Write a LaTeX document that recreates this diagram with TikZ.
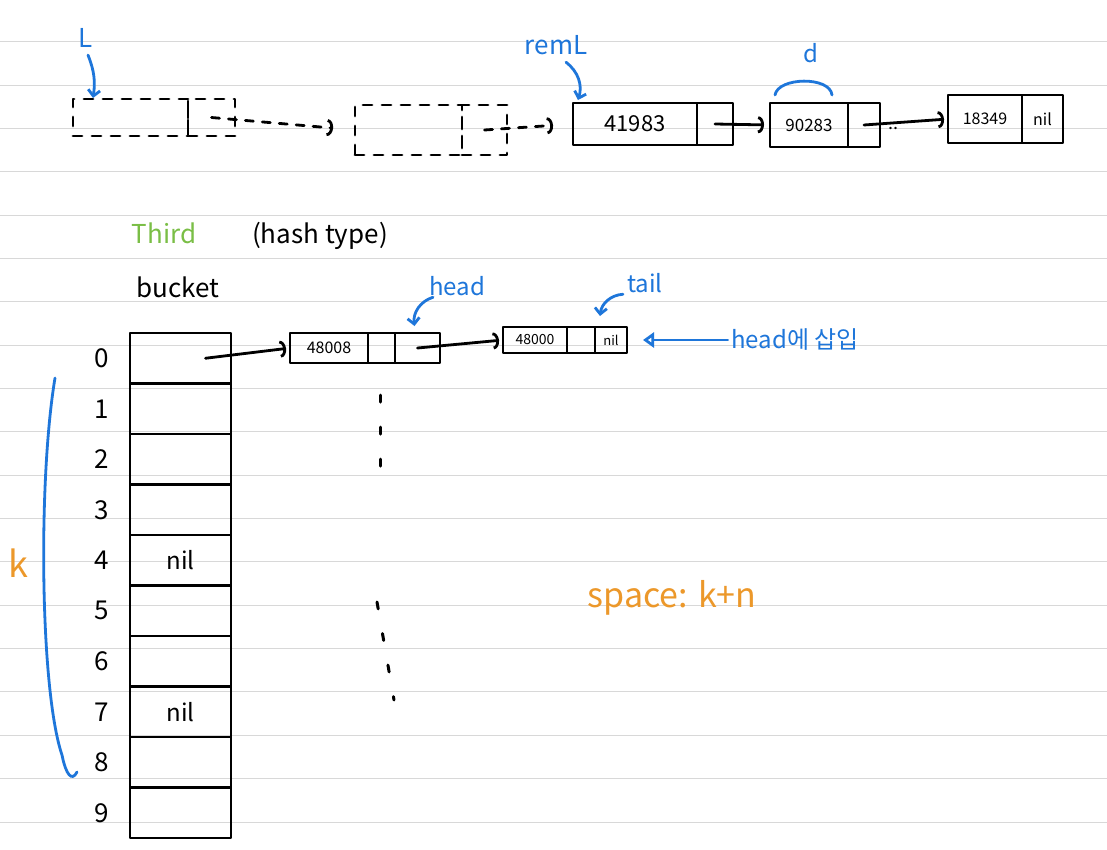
\documentclass[tikz,border=0pt]{standalone}
\usepackage{fontspec}
\setmainfont{Noto Sans CJK KR}
\usepackage{tikz}
\usetikzlibrary{arrows.meta}
\usetikzlibrary{positioning}
\definecolor{penblue}{RGB}{30,118,218}
\definecolor{pengreen}{RGB}{122,190,70}
\definecolor{penorange}{RGB}{236,152,42}
\definecolor{ruling}{RGB}{216,216,216}
\newcommand{\hand}[1]{\fontsize{#1}{#1}\selectfont}

\begin{document}
\begin{tikzpicture}[x=1pt, y=-1pt, line cap=round, line join=round]
    \tikzstyle{field} = [draw, line width=2.8pt, rectangle, inner sep=0pt, outer sep=0pt, text centered];
    \tikzstyle{ghost} = [field, dash pattern=on 9pt off 10pt];
    \tikzstyle{cell} = [field, minimum width=101pt, minimum height=50.5pt, font=\hand{24}];
    \tikzstyle{line} = [draw, line width=2.8pt, -{Arc Barb[length=6pt, width=17pt]}];
    \tikzstyle{pointer} = [draw=penblue, line width=2.8pt, -{Straight Barb[length=6pt, width=12pt]}];
    \tikzstyle{pen} = [text=penblue, font=\hand{24}];
    \tikzstyle{rule} = [draw=ruling, line width=1pt];
    \useasboundingbox (0,0) rectangle (1107,849);
    \fill[white] (0,0) rectangle (1107,849);
    \foreach \k in {0,...,18}
        \path[rule] (0,{41.7+43.35*\k}) -- (1107,{41.7+43.35*\k});

    \node[ghost, minimum width=115pt, minimum height=37pt] (g1key) at (130.5,117.5) {};
    \node[ghost, minimum width=47pt, minimum height=37pt, right=0pt of g1key] (g1ptr) {};
    \node[ghost, minimum width=107pt, minimum height=50pt] (g2key) at (408.5,130) {};
    \node[ghost, minimum width=45pt, minimum height=50pt, right=0pt of g2key] (g2ptr) {};
    \node[field, minimum width=124pt, minimum height=42pt, font=\hand{22}] (n1key) at (635,124) {41983};
    \node[field, minimum width=36pt, minimum height=42pt, right=0pt of n1key] (n1ptr) {};
    \node[field, minimum width=78pt, minimum height=44pt, font=\hand{17}] (n2key) at (809,125) {90283};
    \node[field, minimum width=32pt, minimum height=44pt, right=0pt of n2key] (n2ptr) {};
    \node[field, minimum width=74pt, minimum height=48pt, font=\hand{16}] (n3key) at (985,119) {18349};
    \node[field, minimum width=41pt, minimum height=48pt, font=\hand{16}, right=0pt of n3key] (n3ptr) {nil};

    \path[line, dash pattern=on 8pt off 9pt, shorten >=22pt] (g1ptr.center) -- (g2key.west);
    \path[line, dash pattern=on 8pt off 9pt, shorten >=20pt] (g2ptr.center) -- (n1key.west);
    \path[line, shorten >=6pt] (n1ptr.center) -- (n2key.west);
    \path[line, shorten >=4pt] (n2ptr.center) -- node[below, pos=0.35, font=\hand{18}] {..} (n3key.west);

    \node[pen, font=\hand{26}] (lbl) at (86,38) {L};
    \path[pointer] ([xshift=2pt, yshift=-4pt]lbl.south) to[bend left=15] ([xshift=20pt, yshift=1pt]g1key.north west);
    \node[pen, font=\hand{26}] (remlbl) at (556,45) {remL};
    \path[pointer] ([xshift=10pt, yshift=-4pt]remlbl.south) to[bend left=35] ([xshift=5pt, yshift=3pt]n1key.north west);
    \node[pen] (dlbl) at (811,53) {d};
    \draw[penblue, line width=2.8pt] ([xshift=5pt, yshift=8pt]n2key.north west) .. controls ([xshift=8pt, yshift=26pt]n2key.north west) and ([xshift=-18pt, yshift=27pt]n2key.north east) .. ([xshift=-16pt, yshift=8pt]n2key.north east);

    \node[text=pengreen, font=\hand{26}] (third) at (164,233) {Third};
    \node[font=\hand{26}] (hashtype) at (320,236) {(hash type)};
    \node[font=\hand{26}] (bucketlbl) at (178,287) {bucket};

    \foreach \i/\txt in {0/,1/,2/,3/,4/nil,5/,6/,7/nil,8/,9/}
        \node[cell] (b\i) at (180.5,{358.25+50.5*\i}) {\txt};
    \foreach \i in {0,...,9}
        \node[font=\hand{26}, left=18pt of b\i] (idx\i) {\i};

    \draw[penblue, line width=2.8pt] (55,378) .. controls (38,480) and (40,690) .. (62,755) .. controls (66,775) and (72,782) .. (77,772);
    \node[text=penorange, font=\hand{36}] (klbl) at (18,563) {k};

    \node[field, minimum width=78pt, minimum height=30pt, font=\hand{16}] (m1key) at (329,348) {48008};
    \node[field, minimum width=27pt, minimum height=30pt, right=0pt of m1key] (m1mid) {};
    \node[field, minimum width=45pt, minimum height=30pt, right=0pt of m1mid] (m1ptr) {};
    \node[field, minimum width=64pt, minimum height=26pt, font=\hand{14}] (m2key) at (535,340) {48000};
    \node[field, minimum width=28pt, minimum height=26pt, right=0pt of m2key] (m2mid) {};
    \node[field, minimum width=32pt, minimum height=26pt, font=\hand{13}, right=0pt of m2mid] (m2ptr) {nil};

    \path[line, shorten >=4pt] ([xshift=25pt]b0.center) -- (m1key.west);
    \path[line, shorten >=4pt] (m1ptr.center) -- (m2key.west);

    \node[pen] (headlbl) at (457,286) {head};
    \path[pointer] ([xshift=-24pt, yshift=2pt]headlbl.south) to[bend right=40] ([xshift=-3pt, yshift=7pt]m1ptr.north);
    \node[pen] (taillbl) at (645,283) {tail};
    \path[pointer] ([xshift=-22pt, yshift=2pt]taillbl.south) to[bend right=40] ([xshift=-11pt, yshift=11pt]m2ptr.north);
    \node[pen] (insert) at (795,340) {head에 삽입};
    \path[draw=penblue, line width=2.8pt, -{Triangle[open, length=11pt, width=15pt]}] (insert.west) -- ([xshift=16pt]m2ptr.east);

    \draw[line width=3pt, dash pattern=on 7pt off 25pt] (380,395) -- (380,480);
    \draw[line width=3pt, dash pattern=on 7pt off 25pt] (377,602) -- (394,700);

    \node[text=penorange, font=\hand{34}] (space) at (672,598) {space: k+n};
\end{tikzpicture}
\end{document}
